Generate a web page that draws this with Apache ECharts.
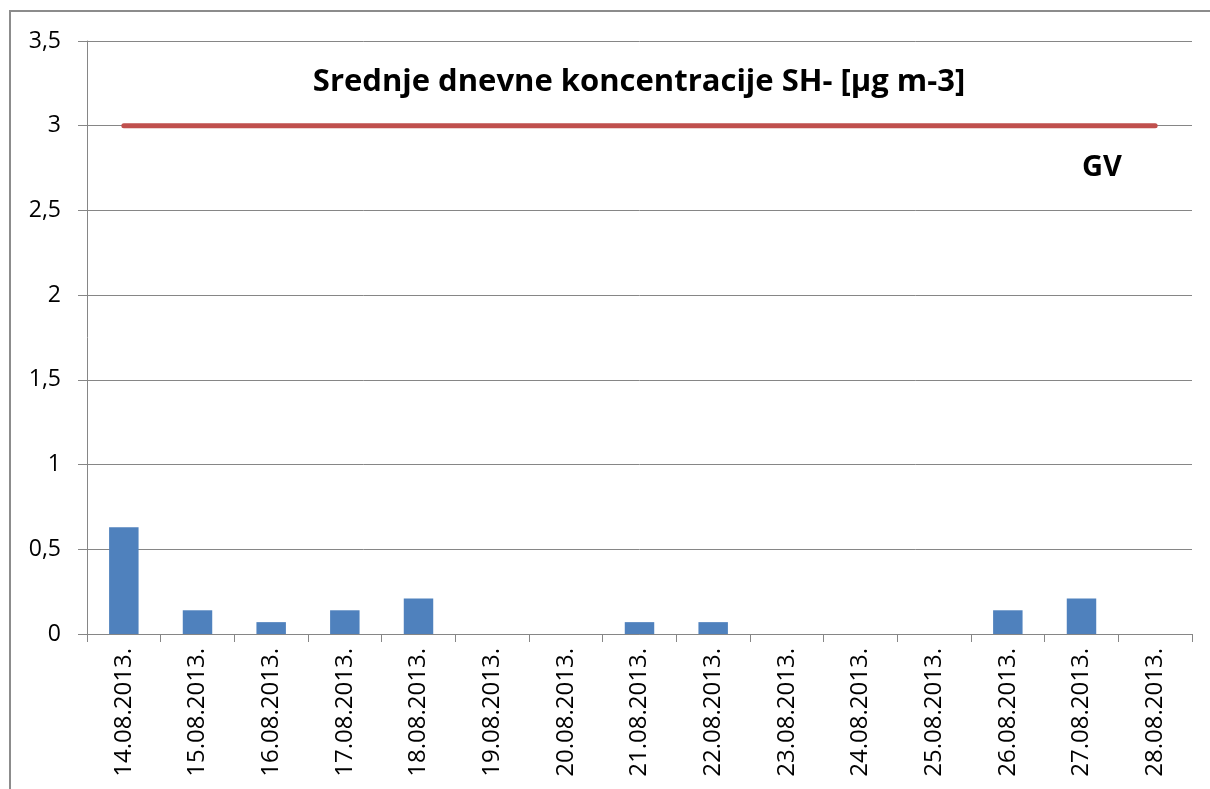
<!DOCTYPE html>
<html>
<head>
<meta charset="utf-8">
<script src="https://cdn.jsdelivr.net/npm/echarts@6/dist/echarts.min.js"></script>
<style>
  html, body { margin: 0; padding: 0; background: #fff; }
</style>
</head>
<body>
<div id="chart" style="width: 1210px; height: 789px;"></div>
<script>
// dates on the x axis
const days = [
  '14.08.2013.', '15.08.2013.', '16.08.2013.', '17.08.2013.', '18.08.2013.',
  '19.08.2013.', '20.08.2013.', '21.08.2013.', '22.08.2013.', '23.08.2013.',
  '24.08.2013.', '25.08.2013.', '26.08.2013.', '27.08.2013.', '28.08.2013.'
]
// daily mean SH- concentrations
const shValues = [0.63, 0.14, 0.07, 0.14, 0.21, 0, 0, 0.07, 0.07, 0, 0, 0, 0.14, 0.21, 0]
// limit value (GV)
const gvValues = [3, 3, 3, 3, 3, 3, 3, 3, 3, 3, 3, 3, 3, 3, 3]

const titleText = 'Srednje dnevne koncentracije SH- [µg m-3]'
const fontFam = '"Open Sans", "DejaVu Sans", sans-serif'

const chart = echarts.init(document.getElementById('chart'))

const option = {
  animation: false,
  backgroundColor: '#fff',
  grid: {
    left: 87,
    right: 18,
    top: 41,
    bottom: 155
  },
  graphic: [
    {
      type: 'rect',
      shape: { x: 10, y: 11, width: 1220, height: 800 },
      style: { fill: 'none', stroke: '#8c8c8c', lineWidth: 2 },
      silent: true
    },
    {
      type: 'text',
      x: 639,
      y: 82,
      style: {
        text: titleText,
        font: 'bold 31px ' + fontFam,
        fill: '#000',
        align: 'center',
        verticalAlign: 'middle'
      }
    },
    {
      type: 'text',
      x: 1102,
      y: 168,
      style: {
        text: 'GV',
        font: 'bold 29px ' + fontFam,
        fill: '#000',
        align: 'center',
        verticalAlign: 'middle'
      }
    }
  ],
  xAxis: {
    type: 'category',
    data: days,
    boundaryGap: true,
    axisLine: { show: true, lineStyle: { color: '#868686', width: 1 } },
    axisTick: { show: true, length: 8, inside: false, lineStyle: { color: '#868686' } },
    axisLabel: {
      rotate: 90,
      interval: 0,
      margin: 14,
      color: '#000',
      fontSize: 24,
      fontFamily: fontFam
    },
    splitLine: { show: false }
  },
  yAxis: {
    type: 'value',
    min: 0,
    max: 3.5,
    interval: 0.5,
    axisLine: { show: true, lineStyle: { color: '#868686', width: 1 } },
    axisTick: { show: true, length: 9, lineStyle: { color: '#868686' } },
    axisLabel: {
      color: '#000',
      fontSize: 23,
      fontFamily: fontFam,
      margin: 26,
      formatter: (v) => String(v).replace('.', ',')
    },
    splitLine: { show: true, lineStyle: { color: '#868686', width: 1 } }
  },
  series: [
    {
      name: 'SH-',
      type: 'bar',
      data: shValues,
      barWidth: '40%',
      itemStyle: { color: '#4f81bd' }
    },
    {
      name: 'GV',
      type: 'line',
      data: gvValues,
      showSymbol: false,
      symbol: 'none',
      lineStyle: { color: '#c0504d', width: 5, cap: 'round' },
      z: 3
    }
  ]
}

chart.setOption(option)
</script>
</body>
</html>
